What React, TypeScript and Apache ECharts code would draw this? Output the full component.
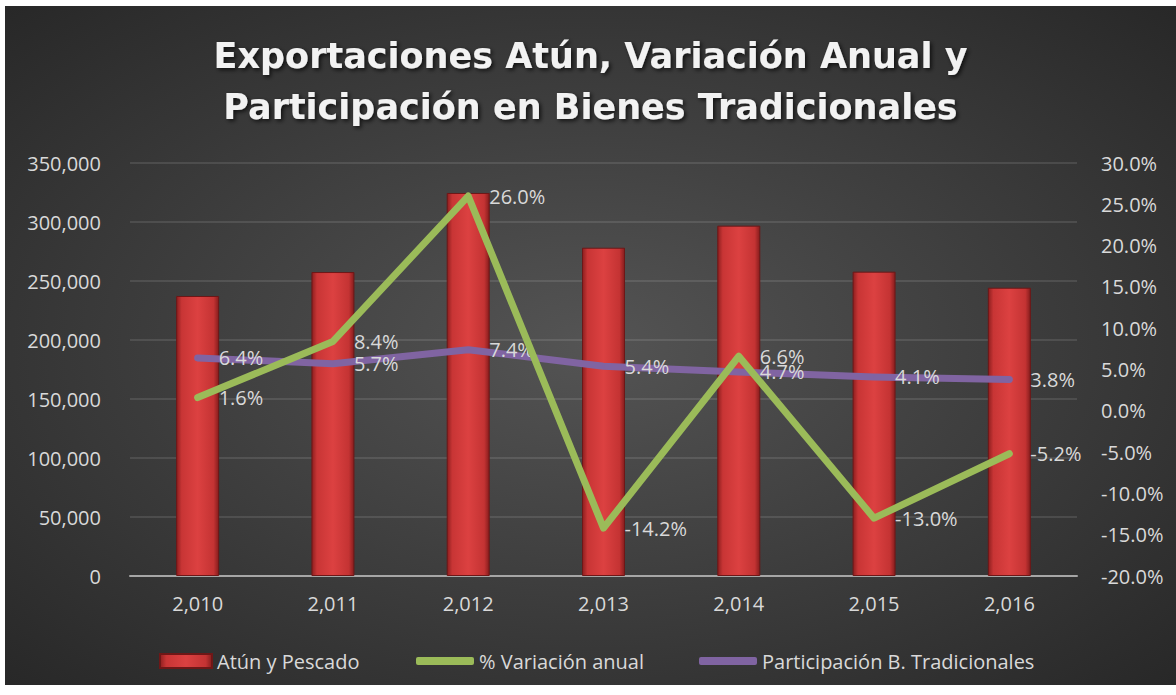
import React, { useEffect, useRef } from "react";
import * as echarts from "echarts";

const categories = ["2,010", "2,011", "2,012", "2,013", "2,014", "2,015", "2,016"];
const atunPescado = [237300, 257600, 324600, 278200, 296900, 257900, 244300];
const variacionAnual = [1.6, 8.4, 26.0, -14.2, 6.6, -13.0, -5.2];
const participacion = [6.4, 5.7, 7.4, 5.4, 4.7, 4.1, 3.8];

const titleText = "Exportaciones Atún, Variación Anual y\nParticipación en Bienes Tradicionales";
const seriesNames = ["Atún y Pescado", "% Variación anual", "Participación B. Tradicionales"];

const FONT = "'Open Sans', 'Noto Sans', sans-serif";
const LABEL_COLOR = "#d9d9d9";
const GREEN = "#9bbb59";
const PURPLE = "#8064a2";

export default function App() {
  const ref = useRef<HTMLDivElement>(null);

  useEffect(() => {
    if (!ref.current) return;
    const chart = echarts.init(ref.current, null, { renderer: "svg" });

    const barGradient = new echarts.graphic.LinearGradient(0, 0, 1, 0, [
      { offset: 0, color: "#8e1f1f" },
      { offset: 0.12, color: "#c83535" },
      { offset: 0.5, color: "#dc4141" },
      { offset: 0.88, color: "#c43333" },
      { offset: 1, color: "#861d1d" },
    ]);

    const legendText = { color: LABEL_COLOR, fontSize: 20, fontFamily: FONT };
    const pctLabel = {
      show: true,
      position: "right",
      distance: 20,
      color: LABEL_COLOR,
      fontSize: 20,
      fontFamily: FONT,
      formatter: (p: any) => Number(p.value).toFixed(1) + "%",
    };

    chart.setOption({
      animation: false,
      backgroundColor: new echarts.graphic.RadialGradient(0.5, 0.5, 0.75, [
        { offset: 0, color: "#545454" },
        { offset: 1, color: "#252525" },
      ]),
      textStyle: { fontFamily: FONT },
      title: {
        text: titleText,
        left: "center",
        top: 19,
        textStyle: {
          color: "#f2f2f2",
          fontFamily: "'DejaVu Sans', sans-serif",
          fontWeight: "bold",
          fontSize: 35,
          lineHeight: 51,
          textShadowColor: "rgba(0,0,0,0.7)",
          textShadowBlur: 4,
          textShadowOffsetX: 2,
          textShadowOffsetY: 2,
        },
      },
      legend: [
        {
          left: 149,
          top: 640,
          itemWidth: 52,
          itemHeight: 14,
          textStyle: legendText,
          data: [{ name: seriesNames[0], icon: "rect" }],
        },
        {
          left: 406,
          top: 640,
          itemWidth: 58,
          itemHeight: 8,
          textStyle: legendText,
          data: [{ name: seriesNames[1], icon: "roundRect" }],
        },
        {
          left: 689,
          top: 640,
          itemWidth: 58,
          itemHeight: 8,
          textStyle: legendText,
          data: [{ name: seriesNames[2], icon: "roundRect" }],
        },
      ],
      grid: { left: 125, right: 99, top: 157, bottom: 109 },
      xAxis: {
        type: "category",
        data: categories,
        axisLine: { show: true, lineStyle: { color: "#a6a6a6", width: 2 } },
        axisTick: { show: false },
        axisLabel: { color: LABEL_COLOR, fontSize: 20, margin: 17, fontFamily: FONT },
      },
      yAxis: [
        {
          type: "value",
          min: 0,
          max: 350000,
          interval: 50000,
          axisLine: { show: false },
          axisTick: { show: false },
          axisLabel: {
            color: LABEL_COLOR,
            fontSize: 20,
            margin: 29,
            fontFamily: FONT,
            formatter: (v: number) => v.toLocaleString("en-US"),
          },
          splitLine: { lineStyle: { color: "rgba(255,255,255,0.14)", width: 1.5 } },
        },
        {
          type: "value",
          min: -20,
          max: 30,
          interval: 5,
          axisLine: { show: false },
          axisTick: { show: false },
          splitLine: { show: false },
          axisLabel: {
            color: LABEL_COLOR,
            fontSize: 20,
            margin: 24,
            fontFamily: FONT,
            formatter: (v: number) => v.toFixed(1) + "%",
          },
        },
      ],
      series: [
        {
          name: seriesNames[0],
          type: "bar",
          data: atunPescado,
          barWidth: 43,
          itemStyle: {
            color: barGradient,
            borderColor: "#6e1717",
            borderWidth: 1,
          },
          z: 2,
        },
        {
          name: seriesNames[1],
          type: "line",
          yAxisIndex: 1,
          data: variacionAnual,
          symbol: "circle",
          symbolSize: 2,
          showSymbol: true,
          color: GREEN,
          itemStyle: { color: GREEN },
          lineStyle: { color: GREEN, width: 7, cap: "round", join: "round" },
          label: pctLabel,
          z: 4,
        },
        {
          name: seriesNames[2],
          type: "line",
          yAxisIndex: 1,
          data: participacion,
          symbol: "circle",
          symbolSize: 2,
          showSymbol: true,
          color: PURPLE,
          itemStyle: { color: PURPLE },
          lineStyle: { color: PURPLE, width: 7, cap: "round", join: "round" },
          label: pctLabel,
          z: 3,
        },
      ],
    });

    return () => chart.dispose();
  }, []);

  return (
    <div
      ref={ref}
      style={{ position: "absolute", left: 5, top: 6, width: 1171, height: 679 }}
    />
  );
}
